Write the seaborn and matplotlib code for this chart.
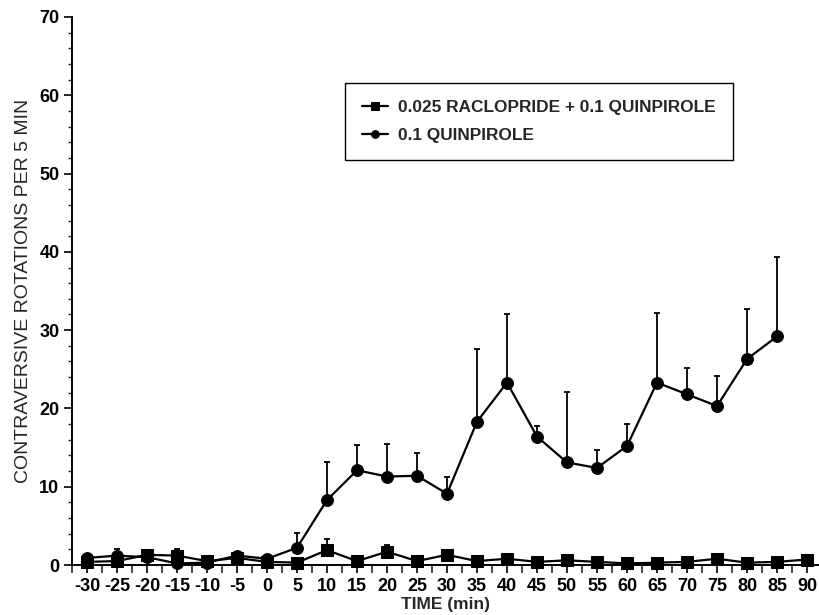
import numpy as np
import pandas as pd
import seaborn as sns
import matplotlib
matplotlib.use("Agg")
import matplotlib.pyplot as plt
from matplotlib.ticker import MultipleLocator

# Time points (min) relative to injection
time_raclo = [-30, -25, -20, -15, -10, -5, 0, 5, 10, 15, 20, 25, 30, 35, 40,
              45, 50, 55, 60, 65, 70, 75, 80, 85, 90]
time_quin = [-30, -25, -20, -15, -10, -5, 0, 5, 10, 15, 20, 25, 30, 35, 40,
             45, 50, 55, 60, 65, 70, 75, 80, 85]

# 0.025 raclopride + 0.1 quinpirole: mean and upper SEM
raclo_mean = [0.4, 0.5, 1.3, 1.2, 0.5, 0.9, 0.4, 0.3, 1.9, 0.5, 1.7, 0.5, 1.3,
              0.5, 0.8, 0.4, 0.6, 0.4, 0.2, 0.3, 0.4, 0.8, 0.3, 0.4, 0.7]
raclo_sem = [0.0, 0.0, 0.0, 0.8, 0.0, 0.0, 0.0, 0.0, 1.4, 0.0, 0.9, 0.0, 0.0,
             0.0, 0.0, 0.0, 0.0, 0.0, 0.0, 0.0, 0.0, 0.0, 0.0, 0.0, 0.3]

# 0.1 quinpirole alone: mean and upper SEM
quin_mean = [0.9, 1.2, 1.0, 0.2, 0.3, 1.2, 0.8, 2.2, 8.3, 12.1, 11.3, 11.4, 9.1,
             18.3, 23.3, 16.4, 13.1, 12.4, 15.2, 23.3, 21.8, 20.3, 26.3, 29.2]
quin_sem = [0.0, 0.8, 0.0, 0.0, 0.0, 0.0, 0.0, 1.9, 4.8, 3.2, 4.1, 2.9, 2.1,
            9.3, 8.8, 1.3, 9.0, 2.3, 2.8, 8.9, 3.3, 3.8, 6.4, 10.1]

label_raclo = "0.025 RACLOPRIDE + 0.1 QUINPIROLE"
label_quin = "0.1 QUINPIROLE"

df = pd.concat([
    pd.DataFrame({"time": time_raclo, "rot": raclo_mean, "sem": raclo_sem,
                  "group": label_raclo}),
    pd.DataFrame({"time": time_quin, "rot": quin_mean, "sem": quin_sem,
                  "group": label_quin}),
], ignore_index=True)

sns.set_style("ticks")
plt.rcParams["font.family"] = ["Liberation Sans", "DejaVu Sans"]
plt.rcParams["axes.unicode_minus"] = False

fig = plt.figure(figsize=(8.19, 6.15), dpi=100)
ax = fig.add_axes([0.0879, 0.0813, 0.9121, 0.8911])

# one-sided (upward) SEM bars
for name, sub in df.groupby("group"):
    ax.errorbar(sub["time"], sub["rot"],
                yerr=[np.zeros(len(sub)), sub["sem"]],
                fmt="none", ecolor="black", elinewidth=1.3,
                capsize=2.5, capthick=1.3, clip_on=False, zorder=2)

sns.lineplot(data=df, x="time", y="rot", style="group",
             hue="group", palette={label_raclo: "black", label_quin: "black"},
             markers={label_raclo: "s", label_quin: "o"},
             dashes=False, linewidth=1.6, markersize=8.5,
             markeredgecolor="black", ax=ax, zorder=3,
             hue_order=[label_raclo, label_quin],
             style_order=[label_raclo, label_quin])
for ln in ax.lines:
    ln.set_clip_on(False)

ax.set_xlim(-32.5, 92)
ax.set_ylim(0, 70)
ax.xaxis.set_major_locator(MultipleLocator(5))
ax.xaxis.set_minor_locator(MultipleLocator(2.5))
ax.yaxis.set_major_locator(MultipleLocator(10))
ax.yaxis.set_minor_locator(MultipleLocator(2))
ax.set_xticks(np.arange(-30, 95, 5))
ax.tick_params(axis="both", which="major", direction="out", length=6,
               width=1.2, colors="black", labelsize=13, pad=3)
ax.tick_params(axis="x", which="minor", direction="out", length=6, width=1.2)
ax.tick_params(axis="y", which="minor", direction="out", length=3, width=1.0)
for lbl in ax.get_xticklabels() + ax.get_yticklabels():
    lbl.set_fontweight("bold")

for side in ("top", "right"):
    ax.spines[side].set_visible(False)
for side in ("left", "bottom"):
    ax.spines[side].set_linewidth(1.4)
    ax.spines[side].set_color("black")

ax.set_xlabel("TIME (min)", fontsize=12.5, fontweight="bold", labelpad=2)
ax.set_ylabel("CONTRAVERSIVE ROTATIONS PER 5 MIN", fontsize=14, labelpad=5)

handles, labels = ax.get_legend_handles_labels()
leg = ax.legend(handles, labels, loc="upper left",
                bbox_to_anchor=(0.365, 0.88), borderaxespad=0,
                frameon=True, fancybox=False,
                edgecolor="black", framealpha=1, handlelength=1.5,
                handletextpad=0.6, borderpad=1.0, labelspacing=0.75,
                prop={"weight": "bold", "size": 12.4}, markerscale=0.65)
leg.get_frame().set_linewidth(1.0)

fig.savefig("out.png", dpi=100)
